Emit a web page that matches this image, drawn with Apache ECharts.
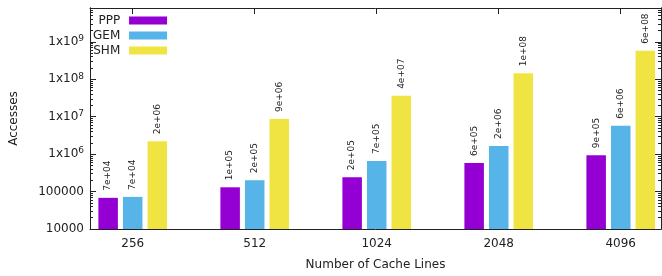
<!DOCTYPE html>
<html>
<head>
    <meta charset="utf-8">
    <title>Accesses</title>
    <script src="https://cdn.jsdelivr.net/npm/echarts@6.0.0/dist/echarts.min.js"></script>
</head>
<body style="margin:0">
<div id="main" style="width: 662px;height:276px;"></div>
<script type="text/javascript">
    var categories = ['256', '512', '1024', '2048', '4096'];
    var ppp = [68000, 130000, 240000, 580000, 940000];
    var gem = [72000, 200000, 660000, 1660000, 5700000];
    var shm = [2200000, 8700000, 36000000, 145000000, 580000000];
    var yTicks = [10000, 100000, 1000000, 10000000, 100000000, 1000000000];

    var font = 'DejaVu Sans';
    var ink = '#222';
    var tickPos = categories.map(function (c, i) { return i; });
    // log minor ticks 2..9 in every decade
    var yMinor = [];
    yTicks.forEach(function (t) {
        for (var k = 2; k <= 9; k++) yMinor.push(t * k);
    });

    function expLabel(p) {
        // gnuplot style "%.0e"
        var s = p.value[1].toExponential(0);
        var m = s.split('e');
        var e = parseInt(m[1], 10);
        var sign = e < 0 ? '-' : '+';
        e = Math.abs(e);
        return m[0] + 'e' + sign + (e < 10 ? '0' + e : e);
    }

    function yLabel(v) {
        if (v < 1000000) return String(v);
        var e = Math.round(Math.log10(v));
        return '{b|1x10}{s|' + e + '}';
    }

    function makeSeries(name, vals, color) {
        return {
            name: name,
            type: 'bar',
            barWidth: 19.5,
            barGap: '26%',
            itemStyle: { color: color },
            data: vals.map(function (v, i) { return [i, v]; }),
            label: {
                show: true,
                position: 'top',
                rotate: 90,
                align: 'left',
                verticalAlign: 'middle',
                distance: 7,
                fontFamily: font,
                fontSize: 9,
                color: ink,
                formatter: expLabel
            }
        };
    }

    function logAxis(pos, ticks, len) {
        return {
            type: 'log',
            logBase: 10,
            min: 10000,
            max: 8e9,
            position: pos,
            axisLine: { show: true, onZero: false, lineStyle: { color: ink, width: 1 } },
            splitLine: { show: false },
            axisTick: { inside: true, length: len, customValues: ticks, lineStyle: { color: ink } },
            axisLabel: { show: false }
        };
    }

    var myChart = echarts.init(document.getElementById('main'));
    var axisLine = { show: true, onZero: false, lineStyle: { color: ink, width: 1 } };

    var yMain = logAxis('left', yTicks, 6);
    yMain.name = 'Accesses';
    yMain.nameLocation = 'middle';
    yMain.nameGap = 70;
    yMain.nameTextStyle = { fontFamily: font, fontSize: 12, color: ink };
    yMain.axisLabel = {
        show: true,
        margin: 6,
        fontFamily: font, fontSize: 12, color: ink,
        customValues: yTicks,
        formatter: yLabel,
        rich: {
            b: { fontFamily: font, fontSize: 12, color: ink },
            s: { fontFamily: font, fontSize: 9, color: ink, verticalAlign: 'top', padding: [0, 0, 6, 0] }
        }
    };

    var option = {
        animation: false,
        grid: { left: 90, right: 1, top: 8, bottom: 47, outerBoundsMode: 'none', containLabel: false },
        legend: {
            orient: 'vertical',
            left: 93,
            top: 13,
            padding: 0,
            align: 'right',
            icon: 'rect',
            itemWidth: 38,
            itemHeight: 8,
            itemGap: 0,
            textStyle: { fontFamily: font, fontSize: 12, color: ink, lineHeight: 15 },
            formatter: function (n) { return n + ' '; },
            data: ['PPP', 'GEM', 'SHM']
        },
        xAxis: [{
            type: 'value',
            min: -0.35,
            max: 4.33,
            name: 'Number of Cache Lines',
            nameLocation: 'middle',
            nameGap: 30,
            nameTextStyle: { fontFamily: font, fontSize: 12, color: ink },
            axisLine: axisLine,
            splitLine: { show: false },
            axisTick: { inside: true, length: 6, customValues: tickPos, lineStyle: { color: ink } },
            axisLabel: {
                customValues: tickPos,
                margin: 9,
                fontFamily: font, fontSize: 12, color: ink,
                formatter: function (v) { return categories[Math.round(v)]; }
            }
        }, {
            type: 'value',
            position: 'top',
            min: -0.35,
            max: 4.33,
            axisLine: axisLine,
            splitLine: { show: false },
            axisTick: { inside: true, length: 6, customValues: tickPos, lineStyle: { color: ink } },
            axisLabel: { show: false }
        }],
        yAxis: [
            yMain,
            logAxis('left', yMinor, 3),
            logAxis('right', yTicks, 6),
            logAxis('right', yMinor, 3)
        ],
        series: [
            makeSeries('PPP', ppp, '#9400d3'),
            makeSeries('GEM', gem, '#56b4e9'),
            makeSeries('SHM', shm, '#f0e442')
        ]
    };
    myChart.setOption(option);
</script>
</body>
</html>
